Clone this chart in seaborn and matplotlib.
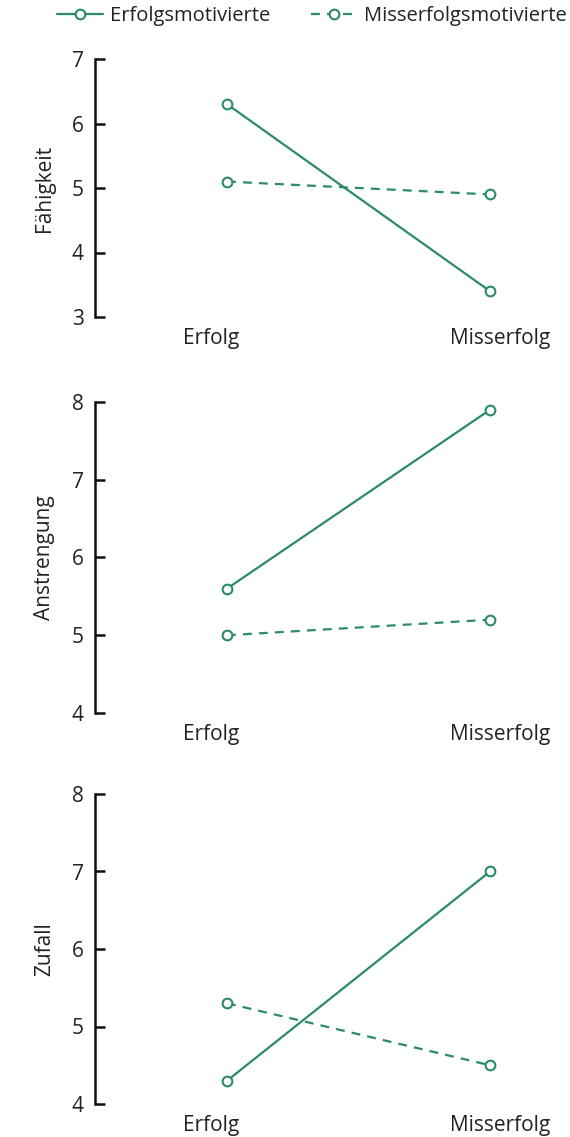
import matplotlib
matplotlib.use("Agg")
import matplotlib.pyplot as plt
from matplotlib.lines import Line2D
from matplotlib.transforms import ScaledTranslation
import seaborn as sns
import pandas as pd

sns.set_theme(style="white")
plt.rcParams["font.family"] = ["Open Sans", "DejaVu Sans"]

# Data
conditions = ["Erfolg", "Misserfolg"]
groups = ["Erfolgsmotivierte", "Misserfolgsmotivierte"]
panels = ["Fähigkeit", "Anstrengung", "Zufall"]

faehigkeit_erfolgsmot = [6.3, 3.4]
faehigkeit_misserfolgsmot = [5.1, 4.9]
anstrengung_erfolgsmot = [5.6, 7.9]
anstrengung_misserfolgsmot = [5.0, 5.2]
zufall_erfolgsmot = [4.3, 7.0]
zufall_misserfolgsmot = [5.3, 4.5]

y_ranges = {"Fähigkeit": (3, 7), "Anstrengung": (4, 8), "Zufall": (4, 8)}

values = {
    "Fähigkeit": (faehigkeit_erfolgsmot, faehigkeit_misserfolgsmot),
    "Anstrengung": (anstrengung_erfolgsmot, anstrengung_misserfolgsmot),
    "Zufall": (zufall_erfolgsmot, zufall_misserfolgsmot),
}

rows = []
for p in panels:
    for g, vals in zip(groups, values[p]):
        for i, (c, v) in enumerate(zip(conditions, vals)):
            rows.append({"panel": p, "group": g, "pos": i, "condition": c, "value": v})
df = pd.DataFrame(rows)

green = "#2b8a6a"
line_styles = {"Erfolgsmotivierte": "-", "Misserfolgsmotivierte": (0, (4, 3.2))}

fig = plt.figure(figsize=(5.7, 11.37), dpi=100)
W, H = 570, 1137
# axes boxes in pixels: (left, top, right, bottom)
boxes = [(95, 59, 560, 317), (95, 402, 560, 713), (95, 794, 560, 1104)]
# horizontal shift of the category labels, in points
label_shift = [-11.5, 7.0]

x0_px, x1_px = 227, 490
for p, (l, t, r, b) in zip(panels, boxes):
    ax = fig.add_axes([l / W, 1 - b / H, (r - l) / W, (b - t) / H])
    sub = df[df["panel"] == p]
    for g in groups:
        d = sub[sub["group"] == g]
        sns.lineplot(data=d, x="pos", y="value", ax=ax, color=green,
                     linestyle=line_styles[g], linewidth=1.6,
                     marker="o", markersize=7, markerfacecolor="white",
                     markeredgecolor=green, markeredgewidth=1.5,
                     clip_on=False, legend=False, zorder=3)
    lo, hi = y_ranges[p]
    ax.set_ylim(lo, hi)
    scale = (x1_px - x0_px)
    ax.set_xlim(-(x0_px - l) / scale, 1 + (r - x1_px) / scale)
    ax.set_yticks(range(lo, hi + 1))
    ax.set_xticks([0, 1], labels=conditions)
    ax.set_xlabel("")
    ax.set_ylabel(p, fontsize=15, color="#222222", labelpad=12)
    for s in ["top", "right", "bottom"]:
        ax.spines[s].set_visible(False)
    ax.spines["left"].set_color("#111111")
    ax.spines["left"].set_linewidth(1.8)
    ax.tick_params(axis="y", direction="in", length=7, width=1.8, color="#111111",
                   labelsize=15, labelcolor="#222222", pad=8, left=True)
    ax.tick_params(axis="x", length=0, labelsize=15, labelcolor="#222222", pad=8)
    for lab, dx in zip(ax.get_xticklabels(), label_shift):
        lab.set_transform(lab.get_transform() + ScaledTranslation(dx / 72, 0, fig.dpi_scale_trans))
    ax.grid(False)
    ax.patch.set_alpha(0)

handles = [
    Line2D([], [], color=green, linestyle=line_styles[g], linewidth=1.6, marker="o",
           markersize=7, markerfacecolor="white", markeredgecolor=green,
           markeredgewidth=1.5)
    for g in groups
]
fig.legend(handles, groups, loc="center", bbox_to_anchor=(0.547, 1 - 16 / H), ncol=2,
           frameon=False, fontsize=14.5, handlelength=2.3, handletextpad=0.35,
           columnspacing=2.0, labelcolor="#222222")

fig.savefig("out.png", dpi=100, facecolor="white")
